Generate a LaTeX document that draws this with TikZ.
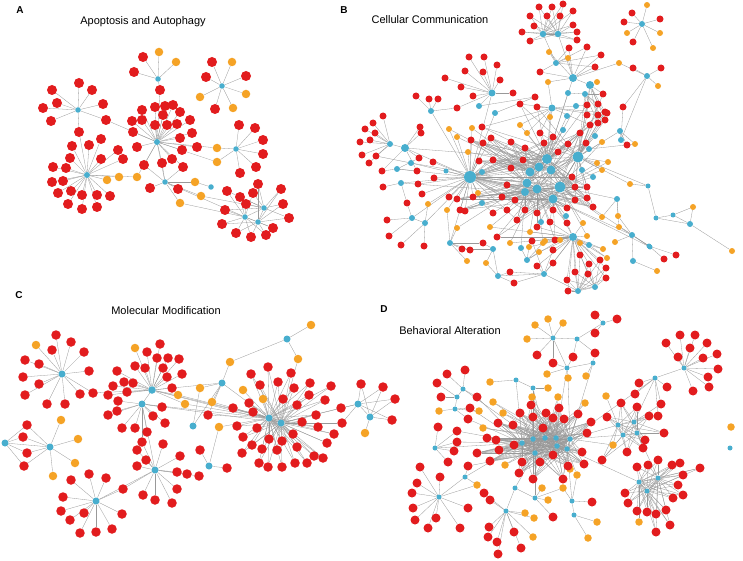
\documentclass[tikz,border=0pt]{standalone}
\usepackage{fontspec}
\setmainfont{Liberation Sans}
\definecolor{nred}{RGB}{226,28,30}
\definecolor{norg}{RGB}{245,163,38}
\definecolor{nblu}{RGB}{72,174,206}
\pgfdeclarelayer{bg}
\pgfdeclarelayer{edges}
\pgfsetlayers{bg,edges,main}
\tikzset{
 nd/.style={circle,inner sep=0pt,draw=none},
 rA/.style={nd,fill=nred,minimum size=10pt},
 oA/.style={nd,fill=norg,minimum size=8.5pt},
 rB/.style={nd,fill=nred,minimum size=7pt},
 oB/.style={nd,fill=norg,minimum size=6pt},
 rC/.style={nd,fill=nred,minimum size=9.5pt},
 oC/.style={nd,fill=norg,minimum size=8.5pt},
 rD/.style={nd,fill=nred,minimum size=9pt},
 oD/.style={nd,fill=norg,minimum size=7.5pt},
 edge/.style={draw=black!40,line width=0.3pt},
 ttl/.style={font=\fontsize{11}{13}\selectfont,inner sep=0pt},
 lbl/.style={font=\fontsize{10}{12}\selectfont\bfseries,inner sep=0pt},
}
\gdef\edgelist{}
\newcommand\hubs[1]{\foreach \n/\x/\y/\s in {#1}{\node[nd,fill=nblu,minimum size=\s*1pt] (\n) at (\x,\y) {};}}
\newcommand\leaves[4]{%
  \foreach \px/\py [count=\i] in {#4}{%
    \node[#2] (#1-\i) at (\px,\py) {};
    \foreach \h in {#3}{\xdef\edgelist{\unexpanded\expandafter{\edgelist}\noexpand\draw[edge] (\h) -- (#1-\i);}}
  }}
\newcommand\lnk[1]{\foreach \u/\v in {#1}{\xdef\edgelist{\unexpanded\expandafter{\edgelist}\noexpand\draw[edge] (\u) -- (\v);}}}
\begin{document}
\begin{tikzpicture}[x=1pt,y=-1pt]
\begin{pgfonlayer}{bg}
\fill[white] (0,0) rectangle (743,561);
\end{pgfonlayer}
\useasboundingbox (0,0) rectangle (743,561);
% ---------- labels ----------
\node[lbl] (lA) at (20,10) {A};
\node[lbl] (lB) at (344,10) {B};
\node[lbl] (lC) at (19,295) {C};
\node[lbl] (lD) at (384,309) {D};
\node[ttl] (tA) at (143,22) {Apoptosis and Autophagy};
\node[ttl] (tB) at (430,20) {Cellular Communication};
\node[ttl] (tC) at (166,311) {Molecular Modification};
\node[ttl] (tD) at (450,331) {Behavioral Alteration};
% ================= PANEL A =================
\hubs{a1/78/110/5.5,a2/158/79/5.5,a3/222/86/5.5,a4/157/142/6,a5/87/175/6,a6/236/149/5.5,a7/165/182/5.5,a8/211/187/5.5,a9/264/208/5.5,a10/245/217/5.5,a11/258/222/5.5}
\leaves{A1}{rA}{a1}{79/83,92/90,52/90,57/103,43/108,51/121,103/104}
\leaves{A12}{rA}{a1,a4}{106/120}
\leaves{A15}{rA}{a1,a5}{79/132}
\leaves{A2}{rA}{a2}{143/57,134/72}
\leaves{A2o}{oA}{a2}{159/52,176/62}
\leaves{A24}{rA}{a2,a4}{160/90}
\leaves{A3}{rA}{a3}{212/62,246/76,215/109,206/77}
\leaves{A3o}{oA}{a3}{232/62,246/94,233/108,200/97}
\leaves{A4}{rA}{a4}{142/110,155/107,165/106,173/105,163/115,180/112,190/120,167/125,177/124,132/121,142/120,155/125,133/132,192/133,180/138,182/150,197/147,137/147,172/159}
\leaves{A47}{rA}{a4,a7}{162/163,144/165,183/167}
\leaves{A5}{rA}{a5}{101/139,89/145,72/146,70/158,101/159,118/150,123/159,53/167,66/168,52/182,63/181,58/193,71/191,68/204,82/209,97/195,97/207,110/196,82/195}
\leaves{A5o}{oA}{a5}{107/180,119/177}
\leaves{A54}{oA}{a5,a4}{137/177}
\leaves{A6}{rA}{a6}{239/125,255/128,263/140,263/154,256/167,240/173}
\leaves{A6o}{oA}{a6,a4}{217/148,217/162}
\leaves{A7}{rA}{a7}{150/188,178/189}
\leaves{A8o}{oA}{a8,a7}{195/182}
\leaves{A9o}{oA}{a7,a9}{201/196}
\leaves{A10o}{oA}{a7,a10}{180/203}
\leaves{A9}{rA}{a9,a10}{227/191,240/197,253/193,246/204,225/210}
\leaves{A9b}{rA}{a9,a11}{258/184,281/189,283/204,289/218}
\leaves{A9c}{rA}{a10,a11}{273/228,266/235,251/237,236/233,222/224}
\lnk{a4/a7,a9/a10,a9/a11,a10/a11,a7/a10}
% ================= PANEL B =================
\hubs{b1/543/34/6.5,b2/558/34/6.5,b3/642/24/6,b4/647/76/6,b5/492/93/7,b6/431/111/6,b7/405/148/8,b8/390/144/6,b9/470/177/12,b10/411/163/6,b11/397/169/6,b12/401/183/6,b13/412/218/6,b14/425/223/6,b15/450/243/6,b16/446/171/5}
\hubs{c1/547/159/10,c2/539/167/9,c3/551/170/9,c4/530/172/9,c5/527/183/9,c6/525/192/8,c7/537/189/9,c8/560/187/11,c9/553/199/9,c10/578/157/11}
\hubs{m1/573/78/8,m2/590/85/8,m3/568/93/6,m4/585/94/6,m5/552/108/7,m6/576/106/6,m7/567/116/6,m8/495/113/6,m9/479/106/6,m10/556/63/6,m11/582/170/6,m12/593/177/6,m13/482/203/6,m14/541/222/6,m15/566/216/6,m16/617/199/6,m18/632/235/6,m19/650/247/5,m20/633/261/6,m21/589/245/6,m22/527/260/6,m23/521/248/6,m24/620/131/6,m25/595/136/6,m26/589/149/6,m27/563/130/6,m28/482/172/6,m29/573/237/8,m30/544/274/6,m31/578/291/6,m32/595/287/6,m33/498/276/6,m34/493/249/6,m35/690/224/6,m36/673/215/5,m37/648/186/5,m38/656/218/5,m40/649/246/5,m41/621/140/6}
\lnk{c1/c2,c1/c3,c1/c4,c1/c5,c1/c6,c1/c7,c1/c8,c1/c9,c1/c10,c2/c3,c2/c4,c2/c5,c2/c6,c2/c7,c2/c8,c2/c9,c2/c10,c3/c4,c3/c5,c3/c6,c3/c7,c3/c8,c3/c9,c3/c10,c4/c5,c4/c6,c4/c7,c4/c8,c4/c9,c4/c10,c5/c6,c5/c7,c5/c8,c5/c9,c5/c10,c6/c7,c6/c8,c6/c9,c6/c10,c7/c8,c7/c9,c7/c10,c8/c9,c8/c10,c9/c10}
\lnk{b1/b2,b1/m10,b2/m1,b5/b9,b6/b9,b7/b9,b8/b7,b10/b9,b11/b9,b12/b9,b13/b14,b14/b9,b15/b9,b16/b9,m1/m2,m1/c1,m2/c10,m3/m4,m3/c1,m4/c10,m5/c1,m24/c10,m26/c10,m27/c1,m41/m24,m11/c10,m12/m11,m13/b9,m28/b9,m15/c9,m14/c7,m21/m29,m22/m23,m23/c6,m29/c9,m29/m31,m29/m30,m30/m31,m31/m32,m33/m30,m34/m33,m35/m36,m36/m38,m38/m37,m16/c8,m18/m40,m40/c8,m20/m18,m19/m18,m25/c10,m6/c1,m7/c1,m8/b9,m9/b5,b9/c4,b9/c2,b9/c5,b9/c6,b9/c1,b9/c7,m41/b4,m19/c9,m35/m38,b7/c1,b10/c5,b12/c6,b13/b9,m12/c8,m37/c10,m18/c9}
\leaves{Bt}{rB}{b1,b2}{539/7,552/7,563/4,573/11,560/16,547/16,530/16,534/26,522/32,530/41,573/25,577/32,577/40}
\leaves{Btr}{rB}{b3}{624/22,632/13,660/19,633/42}
\leaves{Btro}{oB}{b3}{647/5,627/33,660/33,653/48}
\leaves{Bur}{rB}{b4}{633/68,661/68}
\leaves{Buro}{oB}{b4}{658/86}
\leaves{Bur2}{rB}{b4,m41}{623/107}
\leaves{Bul}{rB}{b5}{469/57,484/57,497/65,500/80,483/72,465/71,445/78,461/87,473/96,513/93}
\leaves{Bul2}{rB}{b5,b6}{457/108}
\leaves{B6}{rB}{b6}{416/96,429/99,438/99}
\leaves{B8}{rB}{b8}{373/123,383/116,365/129,375/133,360/142,370/140,362/155,369/163}
\leaves{B7}{rB}{b7}{420/127,421/133}
\leaves{B7b}{rB}{b7,b11}{382/171,419/158,417/171}
\leaves{B10}{rB}{b8,b10}{376/156}
\leaves{B12}{rB}{b12}{383/187}
\leaves{B13}{rB}{b12,b13}{407/203}
\leaves{B13b}{rB}{b13}{387/220,389/236}
\leaves{B14}{rB}{b14}{401/245,424/246}
\leaves{B9l}{rB}{b9}{422/194,418/184,434/178,449/197,433/162}
\leaves{B9l2}{rB}{b9,m13}{465/211}
\leaves{B15}{rB}{b15}{470/250}
\leaves{B9o}{oB}{b9,b14}{428/204}
\leaves{B9o2}{oB}{b9,b15}{447/210}
\leaves{B15o}{oB}{b15,c5}{457/228}
\leaves{B15o2}{oB}{b15}{467/261}
\leaves{B9o3}{oB}{b9,c4}{478/193,449/129,457/137,472/128}
\leaves{B9o4}{oB}{b9,c2}{468/152}
\leaves{BG1}{rB}{c1,c2,c3,c4,c5,b9}{553/137,544/143,558/152,568/144,471/140,483/143,491/138,511/142,525/148,493/160,479/161,511/168,523/160}
\leaves{BG2}{rB}{c5,c6,c7,c8,c9,b9}{507/185,502/197,515/200,473/197,457/199,460/210,517/220,525/210,537/213,553/210,567/208}
\leaves{BG3}{rB}{c1,c3,c8,c10,c9,c7,b9}{572/177,575/187,587/187,575/200,587/198,593/207,580/133,586/143}
\leaves{BGu}{rB}{c1,c10,m5}{587/105,598/115,607/113,590/125,537/107,520/104,482/127,540/133}
\leaves{BGl}{rB}{c9,m29,c7}{497/237,550/222,537/227,567/223,555/240}
\leaves{Bbot}{rB}{m29,m31,m32}{580/255,589/264,600/260,606/268,606/278,588/274,575/272,567/280,568/291}
\leaves{Bbot2}{rB}{m30,m33}{514/283,510/272}
\leaves{Bbot3}{rB}{m29,m30}{553/250,532/241,537/266,553/263}
\leaves{Bbot4}{rB}{m34,b15}{483/243,462/249}
\leaves{Bbot5}{rB}{c6,m13}{507/210,493/213}
\leaves{Bright}{rB}{m40}{676/255,664/259}
\leaves{Burr}{rB}{m2,m4,c10}{603/94,605/112,605/120,598/104,587/115,598/123}
\leaves{Bum}{rB}{m1,m10}{540/72,569/48,587/47,601/55,595/67}
\leaves{Bum2}{rB}{m8,m9}{535/97}
\leaves{Bm41}{rB}{m41,m24}{627/145}
\leaves{BoA}{oB}{c1,m5}{527/133,520/125,550/117}
\leaves{BoB}{oB}{c10,c8}{602/142,597/163,608/162,602/170}
\leaves{BoC}{oB}{c7,m29}{490/227,530/232,510/243,543/243}
\leaves{BoD}{oB}{m29,c8}{587/236,583/223}
\leaves{BoE}{oB}{m16,m18}{618/216,619/227}
\leaves{BoF}{oB}{m37,c10}{630/184}
\leaves{BoG}{oB}{m18}{615/242}
\leaves{BoH}{oB}{m36,m35}{693/207}
\leaves{BoI}{oB}{m35}{732/251}
\leaves{BoJ}{oB}{m20}{657/271}
\leaves{BoK}{oB}{m16,c8}{602/217}
\leaves{BoL}{oB}{m10,m1}{549/52,568/58}
\leaves{BoM}{oB}{m1,m5}{548/82}
\leaves{BoN}{oB}{m1,b4}{619/63}
\leaves{BoO}{oB}{m2}{597/82}
\leaves{BoP}{oB}{m24,m26}{635/144}
\leaves{BoQ}{oB}{m29,m22}{560/240,545/241,529/247,539/252}
\leaves{BoR}{oB}{m29,m21}{580/243,603/249,607/258}
\leaves{BoS}{oB}{m33,m34}{486/263}
% ================= PANEL C =================
\hubs{h1/62/374/7,h2/152/390/7.5,h3/142/404/7,h4/222/383/7,h5/287/339/7,h6/269/418/7,h7/281/423/7,h8/358/404/7,h9/370/417/7,h10/5/443/7,h11/50/447/7,h12/155/470/7,h13/96/501/7,h14/193/426/7,h15/209/466/7}
\lnk{h2/h3,h3/h12,h12/h13,h2/h6,h3/h6,h2/h7,h6/h7,h7/h8,h8/h9,h10/h11,h4/h6,h4/h14,h3/h7,h2/h4}
\leaves{C1}{rC}{h1}{56/335,71/342,52/350,84/352,25/360,39/364,89/371,23/377,39/384,25/395,47/404,65/404,80/394}
\leaves{C1o}{oC}{h1}{36/345}
\leaves{C12}{rC}{h1,h2}{93/393}
\leaves{C2}{rC}{h2}{147/352,160/344,157/358,168/358,179/359,135/366,145/368,163/368,117/371,182/374,167/377,124/382,133/383,113/386,172/388,127/392,108/395}
\leaves{C2o}{oC}{h2}{135/348}
\leaves{C3}{rC}{h3}{118/401,162/407,117/411,153/416,165/423,122/428,135/428,147/432,108/415}
\leaves{C2o2}{oC}{h2,h6}{178/395,185/404}
\leaves{C12b}{rC}{h12}{163/444,137/450,180/456,137/466,146/460,177/472,187/474,199/476,143/495,155/500,172/503,177/489}
\leaves{C312}{rC}{h3,h12}{142/442}
\leaves{C1213}{rC}{h12,h13}{123/489}
\leaves{C13}{rC}{h13}{89/474,71/480,106/478,63/497,61/511,70/520,80/533,96/532,112/529,122/514,84/513}
\leaves{C10}{rC}{h10,h11}{27/425,23/437,27/453,24/466}
\leaves{C11o}{oC}{h11}{61/420,78/439,75/463,53/476}
\leaves{C15}{rC}{h15}{200/450,227/468}
\leaves{C4o}{oC}{h4,h5}{230/362}
\leaves{C4o2}{oC}{h4,h14}{200/388}
\leaves{C4o3}{oC}{h4,h6}{212/402}
\leaves{C4r}{rC}{h4,h6}{208/415}
\leaves{C5o}{oC}{h5}{311/325}
\leaves{C5o2}{oC}{h5,h7}{298/359}
\leaves{C67}{rC}{h6,h7}{251/374,268/367,291/373,278/382,310/383,331/386,260/385,294/388,309/395,325/400,283/399,297/405,249/403,253/412,233/408,316/415,302/422,318/427,293/434,334/434,257/428,243/437,237/426,269/439,282/441,297/447,327/443,252/445,242/453,262/449,277/450,314/456,323/458,307/463,295/463,282/467,268/467,259/463}
\leaves{C6o}{oC}{h6}{243/390}
\leaves{C6o2}{oC}{h6,h7}{263/399}
\leaves{C6o3}{oC}{h6,h15}{219/427}
\leaves{C9o}{oC}{h9}{365/433}
\leaves{C89}{rC}{h8,h9}{361/384,383/387,395/399,392/420}
\leaves{C78}{rC}{h7,h8}{341/408,342/423}
% ================= PANEL D =================
\hubs{d1/553/338/5,d2/577/339/5,d3/603/323/5,d4/593/363/5,d5/567/368/5,d6/516/380/5,d7/533/388/5,d8/463/389/5,d9/457/397/5,d10/455/409/5,d11/684/368/5,d12/655/378/5,d13/618/425/5,d14/634/422/5,d15/623/435/5,d16/637/433/5,d17/435/448/5,d18/439/497/5,d19/506/511/5,d20/535/498/5,d21/572/501/5,d22/574/515/5,d23/639/482/5,d24/658/478/5,d25/647/491/5,d26/730/448/5,d27/515/488/5,d28/465/477/5}
\hubs{k1/522/443/5.5,k2/533/439/5.5,k3/545/438/5.5,k4/556/438/5.5,k5/567/449/5.5,k6/570/439/5.5,k7/535/453/5.5,k8/557/446/5.5}
\lnk{k1/k2,k1/k3,k1/k4,k1/k5,k1/k6,k1/k7,k1/k8,k2/k3,k2/k4,k2/k5,k2/k6,k2/k7,k2/k8,k3/k4,k3/k5,k3/k6,k3/k7,k3/k8,k4/k5,k4/k6,k4/k7,k4/k8,k5/k6,k5/k7,k5/k8,k6/k7,k6/k8,k7/k8}
\lnk{d1/d2,d2/d3,d1/d5,d5/d4,d6/d7,d6/k1,d7/k2,d8/d9,d9/d10,d4/k6,d12/d11,d12/d14,d13/d14,d13/d15,d14/d16,d15/d16,d13/k6,d16/d24,d23/d24,d23/d25,d24/d25,d23/k5,d17/k1,d18/d28,d28/k1,d19/d27,d27/k7,d20/d27,d20/k7,d21/d22,d21/k5,d12/k6,d5/k4,d8/k2,d7/k3,d15/k6}
\leaves{D3}{rD}{d3}{595/315,617/319,595/333}
\leaves{D15}{rD}{d1,d5}{553/363}
\leaves{D25}{rD}{d2,d5}{573/357}
\leaves{D1}{rD}{d1}{537/355}
\leaves{D24}{rD}{d2,d4}{595/353}
\leaves{D1o}{oD}{d1}{548/319,563/323,535/325,527/339}
\leaves{D5o}{oD}{d5}{547/374}
\leaves{D5o2}{oD}{d5,k6}{568/378}
\leaves{D4o}{oD}{d4}{586/376}
\leaves{DKo}{oD}{k3,k4}{558/397,532/397,493/402,483/428,503/413,585/403,570/469,505/465}
\leaves{D7o}{oD}{d7}{548/388}
\leaves{D6o}{oD}{d6}{490/382}
\leaves{D10o}{oD}{d10}{479/411,439/411}
\leaves{D13o}{oD}{d13}{606/396}
\leaves{D13o2}{oD}{d13,k6}{613/445}
\leaves{D21o}{oD}{k5,d21}{577/475}
\leaves{D28o}{oD}{d28,d18}{477/485}
\leaves{D20o}{oD}{d21,d20}{563/488}
\leaves{D20o2}{oD}{d20}{542/488,548/500}
\leaves{D19o}{oD}{d19}{525/513,534/518,533/537}
\leaves{D22o}{oD}{d22}{588/538,597/522}
\leaves{D23o}{oD}{d23}{639/522}
\leaves{DK}{rD}{k1,k2,k3,k4,k5,k6,k7,k8}{498/423,520/413,513/425,531/405,533/417,546/413,559/408,564/419,578/414,591/422,587/433,582/452,584/464,568/466,553/455,540/462,522/462,519/473,533/479,563/479,499/450,514/445,496/440,543/428,553/418,487/438,490/461,477/453}
\leaves{D8}{rD}{d8}{447/374,465/370}
\leaves{D9}{rD}{d9}{437/383,441/397}
\leaves{D8k}{rD}{d8,k1}{477/397}
\leaves{D10k}{rD}{d10,k1}{470/408,468/419}
\leaves{D17}{rD}{d17}{438/427,454/451,448/462}
\leaves{D17k}{rD}{d17,k1}{457/431,457/442}
\leaves{D28}{rD}{d28,k7}{468/466}
\leaves{DR}{rD}{d13,d14,d15,d16}{602/460,627/452,643/448,645/440,664/433,649/416,637/407,621/403,607/417}
\leaves{D12}{rD}{d12}{635/394,639/383,667/387}
\leaves{D12b}{rD}{d12,d14}{661/404,658/416}
\leaves{D11}{rD}{d11}{680/335,695/335,707/343,690/348,703/358,717/354,718/369,709/387,693/391,666/343,678/357,708/377}
\leaves{D18}{rD}{d18}{420/467,440/477,417/483,412/493,413/508,415/520,428/528,436/518,468/508,460/528}
\leaves{D19}{rD}{d19}{490/500,489/527,488/537,497/542,521/548,498/554,514/532,484/493}
\leaves{D20}{rD}{d20}{553/517}
\leaves{D21}{rD}{d21}{592/502}
\leaves{D23}{rD}{d23,d24,d25}{625/493,628/503,637/511,647/512,656/514,666/510,670/525,656/532,673/498,683/495,678/485,683/475,672/465,658/460,648/465,637/467,700/468,680/463}
\node[oD] (Dio) at (731,427) {};
% ---------- all connectors, behind the nodes ----------
\begin{pgfonlayer}{edges}
\edgelist
\end{pgfonlayer}
\end{tikzpicture}
\end{document}
